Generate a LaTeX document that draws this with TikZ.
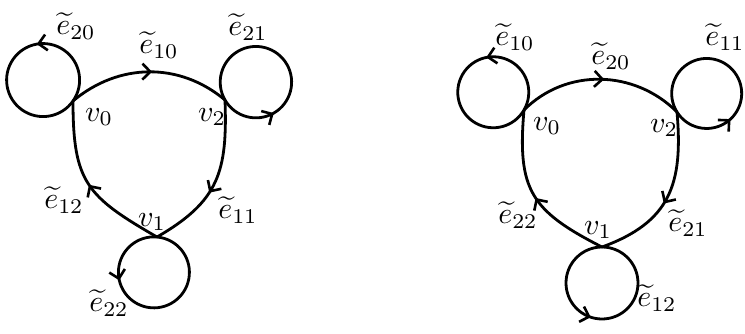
\documentclass[tikz,border=0pt]{standalone}
\usetikzlibrary{arrows.meta,decorations.markings}
\begin{document}
\begin{tikzpicture}[x=1pt,y=1pt,
  edge/.style={line width=2.8pt, line cap=round, line join=round},
  arrowat/.style={postaction={decorate,decoration={markings,
     mark=at position #1 with {\arrow{Straight Barb[length=8pt,width=16pt,line width=2.6pt]}}}}},
  lab/.style={inner sep=0pt, scale=3}]
\useasboundingbox (0,0) rectangle (745,-333);
% ---------- left diagram ----------
\coordinate (a0) at (73,-101);
\coordinate (a2) at (225,-100);
\coordinate (a1) at (157,-237);
\draw[edge,arrowat=0.52] (a0) to[out=40,in=140] (a2);
\draw[edge,arrowat=0.58] (a2) to[out=-88,in=30,looseness=1.2] (a1);
\draw[edge,arrowat=0.5] (a1) to[out=150,in=-90,looseness=1.3] (a0);
\draw[edge,arrowat=0.375] (a0) arc[start angle=-35,delta angle=360,radius=36.5pt];
\draw[edge,arrowat=0.25] (a2) arc[start angle=-150,delta angle=360,radius=35.7pt];
\draw[edge,arrowat=0.30] (a1) arc[start angle=85,delta angle=360,radius=35.5pt];
\node[lab] (la20) at (76,-26) {$\widetilde{e}_{20}$};
\node[lab] (la10) at (159,-45) {$\widetilde{e}_{10}$};
\node[lab] (la21) at (248,-27) {$\widetilde{e}_{21}$};
\node[lab] (lav0) at (99,-117) {$v_0$};
\node[lab] (lav2) at (212,-117) {$v_2$};
\node[lab] (la12) at (64,-200) {$\widetilde{e}_{12}$};
\node[lab] (la11) at (238,-210) {$\widetilde{e}_{11}$};
\node[lab] (lav1) at (152,-222) {$v_1$};
\node[lab] (la22) at (109,-303) {$\widetilde{e}_{22}$};
% ---------- right diagram ----------
\coordinate (b0) at (524,-110);
\coordinate (b2) at (677,-112);
\coordinate (b1) at (602,-247);
\draw[edge,arrowat=0.52] (b0) to[out=45,in=135] (b2);
\draw[edge,arrowat=0.55] (b2) to[out=-85,in=20,looseness=1.2] (b1);
\draw[edge,arrowat=0.48] (b1) to[out=153,in=-95,looseness=1.3] (b0);
\draw[edge,arrowat=0.365] (b0) arc[start angle=-30,delta angle=360,radius=35.5pt];
\draw[edge,arrowat=0.28] (b2) arc[start angle=-148,delta angle=360,radius=35pt];
\draw[edge,arrowat=0.45] (b1) arc[start angle=90,delta angle=360,radius=36pt];
\node[lab] (lb10) at (515,-37) {$\widetilde{e}_{10}$};
\node[lab] (lb20) at (611,-56) {$\widetilde{e}_{20}$};
\node[lab] (lb11) at (725,-37) {$\widetilde{e}_{11}$};
\node[lab] (lbv0) at (547,-126) {$v_0$};
\node[lab] (lbv2) at (664,-128) {$v_2$};
\node[lab] (lb22) at (518,-215) {$\widetilde{e}_{22}$};
\node[lab] (lb21) at (688,-223) {$\widetilde{e}_{21}$};
\node[lab] (lbv1) at (598,-230) {$v_1$};
\node[lab] (lb12) at (657,-298) {$\widetilde{e}_{12}$};
\end{tikzpicture}
\end{document}
